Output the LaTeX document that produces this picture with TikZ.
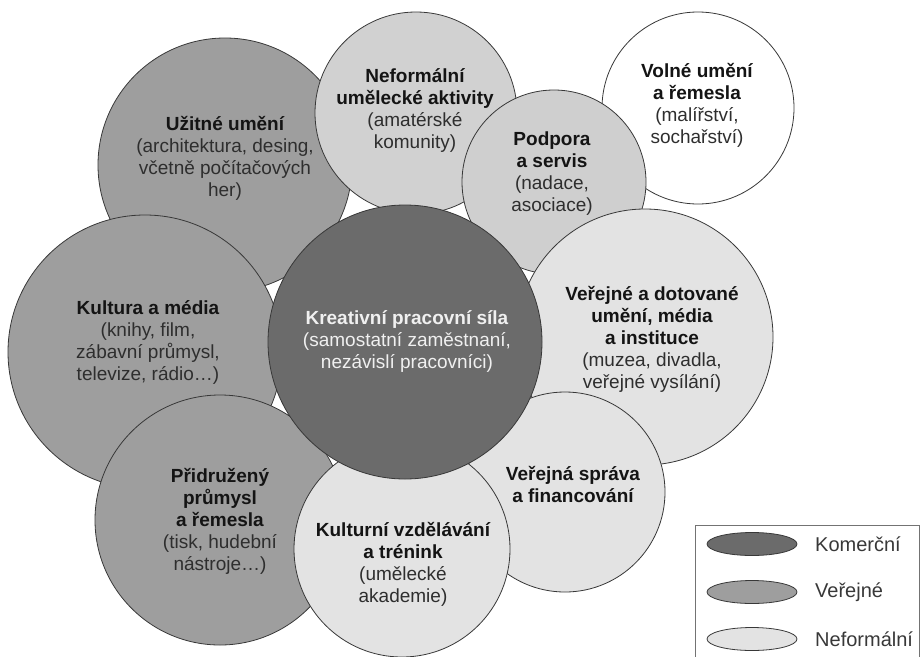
\documentclass[tikz,border=0pt]{standalone}
\usepackage{fontspec}
\setmainfont{Liberation Sans}
\usetikzlibrary{calc}
\definecolor{komercni}{gray}{0.42}
\definecolor{verejne}{gray}{0.62}
\definecolor{neform}{gray}{0.89}
\definecolor{neformB}{gray}{0.82}
\definecolor{podpora}{gray}{0.81}
\definecolor{obrys}{gray}{0.22}
\tikzset{
  kruh/.style={draw=obrys, line width=0.8pt},
  popis/.style={align=center, inner sep=0pt, text=black!82, font=\fontsize{19}{22}\selectfont},
  legtext/.style={anchor=west, inner sep=0pt, text=black!78, font=\fontsize{20}{24}\selectfont}
}
\def\nadpis#1{{\bfseries\color{black!92}#1}}

\begin{document}
\begin{tikzpicture}[x=1pt, y=-1pt]
		%%%%% START %%%%%
		\useasboundingbox (0,0) rectangle (921,656);
		\clip (0,0) rectangle (921,656);
		
		% circles, back to front
		\draw[kruh, fill=verejne] (225,165) circle (127pt);
		\draw[kruh, fill=neformB] (416,113) circle (101pt);
		\draw[kruh, fill=white] (698,108) circle (96pt);
		\draw[kruh, fill=podpora] (554,182) circle (92pt);
		\draw[kruh, fill=neform] (645,337) circle (128pt);
		\draw[kruh, fill=verejne] (145,352) circle (137pt);
		\draw[kruh, fill=verejne] (220,520) circle (125pt);
		\draw[kruh, fill=neform] (565,492) circle (100pt);
		\draw[kruh, fill=neform] (402,549) circle (108pt);
		\draw[kruh, fill=komercni] (405,342) circle (137pt);
		
		% texts
		\node[popis] (uzitne) at (225,158) {\nadpis{Užitné umění}\\(architektura, desing,\\včetně počítačových\\her)};
		\node[popis] (neformalni) at (415,111) {\nadpis{Neformální}\\\nadpis{umělecké aktivity}\\(amatérské\\komunity)};
		\node[popis] (volne) at (697,105) {\nadpis{Volné umění}\\\nadpis{a řemesla}\\(malířství,\\sochařství)};
		\node[popis] (podpora) at (552,174) {\nadpis{Podpora}\\\nadpis{a servis}\\(nadace,\\asociace)};
		\node[popis] (dotovane) at (652,339) {\nadpis{Veřejné a dotované}\\\nadpis{umění, média}\\\nadpis{a instituce}\\(muzea, divadla,\\veřejné vysílání)};
		\node[popis] (kultura) at (148,342) {\nadpis{Kultura a média}\\(knihy, film,\\zábavní průmysl,\\televize, rádio…)};
		\node[popis] (pridruzeny) at (220,521) {\nadpis{Přidružený}\\\nadpis{průmysl}\\\nadpis{a řemesla}\\(tisk, hudební\\nástroje…)};
		\node[popis] (sprava) at (573,484) {\nadpis{Veřejná správa}\\\nadpis{a financování}};
		\node[popis] (vzdelavani) at (403,564) {\nadpis{Kulturní vzdělávání}\\\nadpis{a trénink}\\(umělecké\\akademie)};
		\node[popis, text=black!6] (kreativni) at (407,341) {\textbf{Kreativní pracovní síla}\\(samostatní zaměstnaní,\\nezávislí pracovníci)};
		
		% legend
		\draw[draw=black!55, line width=0.8pt] (695,525) rectangle (919,670);
		\draw[kruh, fill=komercni] (752,544) ellipse (45pt and 11.5pt);
		\draw[kruh, fill=verejne] (752,592) ellipse (45pt and 11.5pt);
		\draw[kruh, fill=neform] (752,639) ellipse (45pt and 11.5pt);
		\node[legtext] (legkom) at (815,544) {Komerční};
		\node[legtext] (legver) at (815,592) {Veřejné};
		\node[legtext] (legnef) at (815,639) {Neformální};
		%%%%% END %%%%%
	\end{tikzpicture}
\end{document}
